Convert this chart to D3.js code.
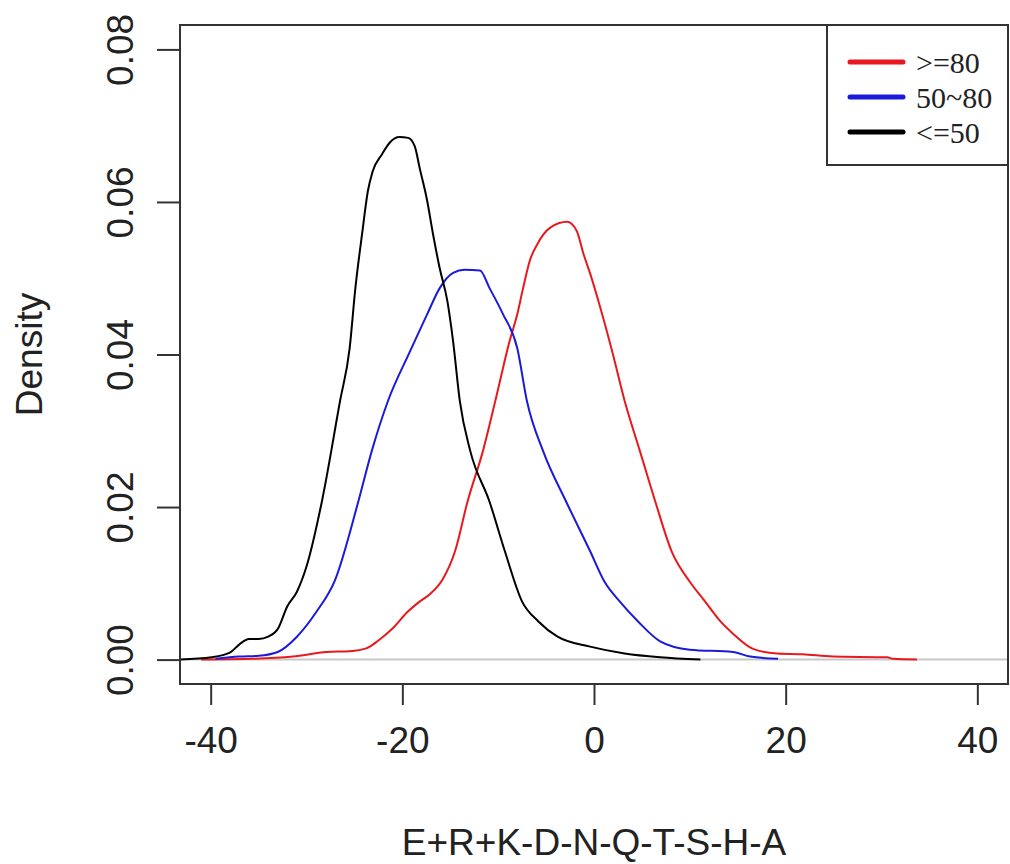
<!DOCTYPE html>
<html>
<head>
<meta charset="utf-8">
<script src="https://cdn.jsdelivr.net/npm/d3@7"></script>
<style>
body { margin: 0; background: #fff; }
svg { display: block; }
</style>
</head>
<body>
<svg id="chart"></svg>
<script>
var width = 1010,
    height = 864

// density curves: [x, density]
var high = [[-41, 0], [-35.6, 0.0001], [-31.4, 0.0004], [-27.9, 0.0010], [-25.5, 0.0011], [-23.7, 0.0015],
    [-22.5, 0.0025], [-21.0, 0.0041], [-19.5, 0.0062], [-18.2, 0.0076], [-17.1, 0.0086], [-15.8, 0.0105],
    [-14.5, 0.0142], [-13.2, 0.0207], [-11.6, 0.0273], [-10.3, 0.0339], [-8.8, 0.0418], [-8.0, 0.0453],
    [-7.4, 0.0487], [-6.7, 0.0523], [-5.9, 0.0545], [-4.6, 0.0566], [-2.8, 0.0574], [-1.8, 0.0562],
    [-1.1, 0.0532], [-0.4, 0.0506], [0.6, 0.0464], [1.9, 0.0404], [3.2, 0.0339], [4.8, 0.0273],
    [6.4, 0.0207], [8.1, 0.0142], [10.0, 0.0102], [11.6, 0.0076], [13.2, 0.0050], [14.5, 0.0034],
    [16.6, 0.0014], [19.1, 0.0008], [21.8, 0.0007], [24.9, 0.0004], [30.6, 0.0003], [31.2, 0.0001], [33.7, 0]]
var mid = [[-39.5, 0.0001], [-37, 0.0004], [-35, 0.0005], [-33, 0.0010], [-31, 0.0030], [-29, 0.0062],
    [-27, 0.0105], [-24.6, 0.0207], [-23.2, 0.0273], [-21.5, 0.0339], [-19.2, 0.0404], [-17.4, 0.0453],
    [-16.1, 0.0487], [-14.7, 0.0507], [-13.5, 0.0511], [-11.9, 0.0510], [-10.9, 0.0487], [-9.5, 0.0453],
    [-8.0, 0.0408], [-7.0, 0.0339], [-5.3, 0.0273], [-2.9, 0.0207], [-0.4, 0.0142], [1.1, 0.0102],
    [2.7, 0.0076], [4.6, 0.0050], [6.9, 0.0024], [10.0, 0.0013], [14.5, 0.0010], [16.3, 0.0004], [19.2, 0.0001]]
var low = [[-43.2, 0], [-39.9, 0.0003], [-38, 0.0009], [-37, 0.0020], [-36, 0.0027], [-35, 0.0027],
    [-34, 0.0030], [-33, 0.0040], [-32, 0.0070], [-31, 0.0089], [-30, 0.0122], [-28.4, 0.0207],
    [-26.5, 0.0339], [-25.5, 0.0408], [-24.9, 0.0487], [-24.2, 0.0558], [-23.6, 0.0614], [-23.1, 0.0640],
    [-22.1, 0.0663], [-21.3, 0.0678], [-20.3, 0.0685], [-19.4, 0.0684], [-18.7, 0.0673], [-18.2, 0.0645],
    [-17.4, 0.0601], [-16.8, 0.0558], [-16.1, 0.0513], [-15.3, 0.0470], [-14.7, 0.0417], [-14.0, 0.0339],
    [-12.9, 0.0273], [-10.9, 0.0207], [-9.3, 0.0142], [-7.5, 0.0076], [-5.8, 0.0050], [-3.8, 0.0030],
    [-0.4, 0.0017], [3.2, 0.0008], [6.9, 0.0003], [11.1, 0]]

var groups = [">=80", "50~80", "<=50"]
var colors = ["#e8191e", "#1a1adb", "#000000"]
var xTicks = [-40, -20, 0, 20, 40]
var yTicks = [0, 0.02, 0.04, 0.06, 0.08]

var pLeft = 180, pRight = 1008, pTop = 25, pBottom = 684

var svg = d3.select("#chart")
    .attr("width", width)
    .attr("height", height)

// R style: 4% padding on both ends
var x = d3.scaleLinear().domain([-43.2, 43.2]).range([pLeft, pRight])
var y = d3.scaleLinear().domain([-0.0032, 0.0832]).range([pBottom, pTop])

var font = "'Liberation Sans', Arial, sans-serif"

// zero line
svg.append("line")
    .attr("x1", pLeft).attr("x2", pRight)
    .attr("y1", y(0)).attr("y2", y(0))
    .attr("stroke", "#c8c8c8")
    .attr("stroke-width", 2)

var line = d3.line()
    .x(function (d) { return x(d[0]) })
    .y(function (d) { return y(d[1]) })
    .curve(d3.curveMonotoneX)

var series = [high, mid, low]
svg.append("g")
    .selectAll("path")
    .data(series)
    .enter().append("path")
    .attr("d", line)
    .attr("fill", "none")
    .attr("stroke", function (d, i) { return colors[i] })
    .attr("stroke-width", 2)

// box
svg.append("rect")
    .attr("x", pLeft).attr("y", pTop)
    .attr("width", pRight - pLeft).attr("height", pBottom - pTop)
    .attr("fill", "none")
    .attr("stroke", "#333")
    .attr("stroke-width", 2)

// x axis
var xAxis = svg.append("g")
    .attr("transform", "translate(0," + pBottom + ")")
    .call(d3.axisBottom(x).tickValues(xTicks).tickSize(21).tickPadding(22).tickFormat(d3.format("d")))
xAxis.select(".domain")
    .attr("d", "M" + x(-40) + ",0H" + x(40))
    .attr("stroke", "#333").attr("stroke-width", 2)
xAxis.selectAll(".tick line").attr("stroke", "#333").attr("stroke-width", 2)
xAxis.selectAll(".tick text")
    .attr("font-family", font)
    .attr("font-size", 37)
    .attr("fill", "#222")
    .text(function (d) { return d < 0 ? "-" + Math.abs(d) : d })

// y axis
var yAxis = svg.append("g")
    .attr("transform", "translate(" + pLeft + ",0)")
    .call(d3.axisLeft(y).tickValues(yTicks).tickSize(23).tickFormat(d3.format(".2f")))
yAxis.select(".domain")
    .attr("d", "M0," + y(0) + "V" + y(0.08))
    .attr("stroke", "#333").attr("stroke-width", 2)
yAxis.selectAll(".tick line").attr("stroke", "#333").attr("stroke-width", 2)
yAxis.selectAll(".tick text")
    .attr("x", 0).attr("dy", null)
    .attr("transform", "translate(-47,0) rotate(-90)")
    .attr("text-anchor", "middle")
    .attr("font-family", font)
    .attr("font-size", 37)
    .attr("fill", "#222")

// axis titles
svg.append("text")
    .attr("x", (pLeft + pRight) / 2).attr("y", 855)
    .attr("text-anchor", "middle")
    .attr("font-family", font)
    .attr("font-size", 37)
    .attr("fill", "#222")
    .text("E+R+K-D-N-Q-T-S-H-A")

svg.append("text")
    .attr("transform", "translate(42," + (pTop + pBottom) / 2 + ") rotate(-90)")
    .attr("text-anchor", "middle")
    .attr("font-family", font)
    .attr("font-size", 37)
    .attr("fill", "#222")
    .text("Density")

// legend
svg.append("rect")
    .attr("x", 827).attr("y", pTop)
    .attr("width", pRight - 827).attr("height", 140)
    .attr("fill", "#fff")
    .attr("stroke", "#333")
    .attr("stroke-width", 2)
var rows = svg.append("g")
    .selectAll("g")
    .data(groups)
    .enter().append("g")
    .attr("transform", function (d, i) { return "translate(0," + (62 + i * 35) + ")" })
rows.append("line")
    .attr("x1", 850).attr("x2", 903)
    .attr("stroke", function (d, i) { return colors[i] })
    .attr("stroke-width", 5)
    .attr("stroke-linecap", "round")
rows.append("text")
    .attr("x", 916).attr("dy", "0.35em")
    .attr("font-family", "'Liberation Serif', 'Times New Roman', serif")
    .attr("font-size", 30)
    .attr("fill", "#222")
    .text(function (d) { return d })
</script>
</body>
</html>
